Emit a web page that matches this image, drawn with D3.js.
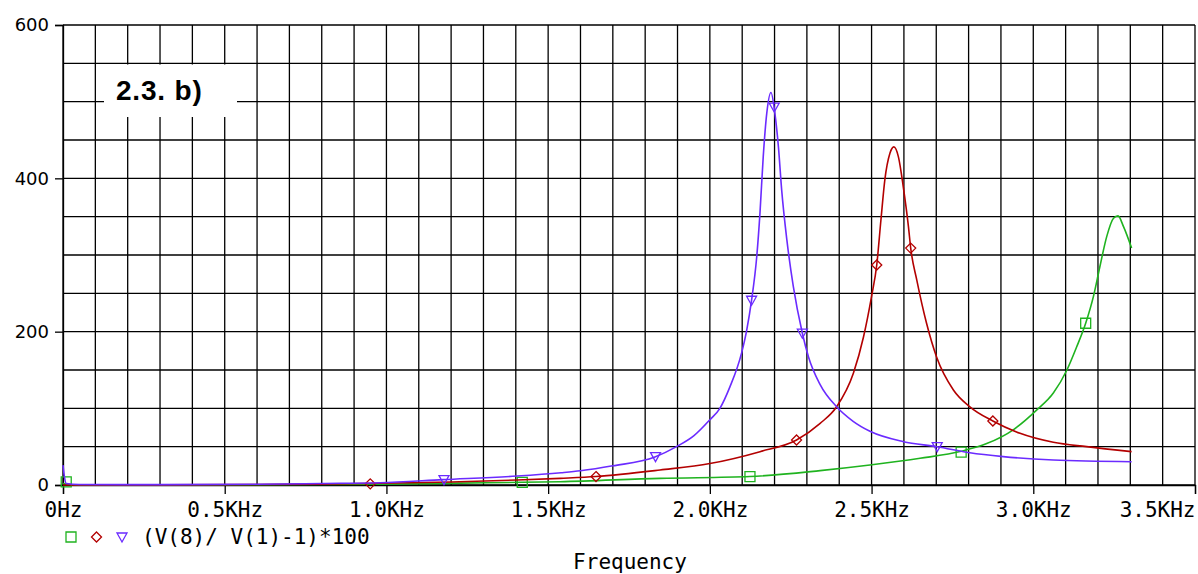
<!DOCTYPE html>
<html>
<head>
<meta charset="utf-8">
<script src="https://cdn.jsdelivr.net/npm/d3@7"></script>
<style>
  body { margin: 0; background: #fff; }
  svg { display: block; }
</style>
</head>
<body>
<script>
/* CONSTANTS AND GLOBALS */
var margin = {top: 25, right: 3, bottom: 89, left: 63},
    width = 1198 - margin.left - margin.right,
    height = 574 - margin.top - margin.bottom;

// frequency in KHz, value of (V(8)/V(1)-1)*100
var blueFreq = [0, 0.004, 0.01, 0.05, 0.3, 0.6, 0.8, 0.98, 1.175, 1.404, 1.54, 1.6, 1.7, 1.83, 1.897, 1.95, 2.0, 2.031, 2.062, 2.098, 2.114, 2.129, 2.145, 2.155, 2.165, 2.176, 2.189, 2.201, 2.212, 2.222, 2.238, 2.258, 2.286, 2.305, 2.341, 2.392, 2.443, 2.495, 2.598, 2.703, 2.804, 2.907, 3.062, 3.304];
var blueVal  = [26, 12, 2, 0.6, 0.5, 1, 2, 3, 7, 11.7, 16, 18.5, 25, 36.5, 50, 64, 85, 100, 128, 172, 202, 241, 298, 355, 428, 485, 512, 485, 441, 385, 320, 259, 198, 167, 131, 102, 83, 70, 56.5, 50, 42, 37, 32.6, 30.4];

var redFreq = [0, 0.05, 0.3, 0.6, 0.8, 0.98, 1.2, 1.404, 1.537, 1.648, 1.846, 2.0, 2.155, 2.268, 2.341, 2.392, 2.444, 2.475, 2.5, 2.516, 2.529, 2.541, 2.557, 2.569, 2.583, 2.598, 2.614, 2.621, 2.64, 2.67, 2.701, 2.753, 2.804, 2.875, 2.959, 3.062, 3.165, 3.304];
var redVal  = [0, 0, 0.2, 0.6, 1.2, 2.2, 4, 6.5, 8.7, 11, 19.6, 28, 43.5, 58.7, 80.4, 102, 146, 193, 246, 287, 346, 398, 433, 441, 428, 389, 337, 309, 267, 211, 167, 124, 102, 83.5, 67.4, 55.7, 50, 43.5];

var greenFreq = [0, 0.05, 0.3, 0.6, 0.98, 1.228, 1.42, 1.537, 1.846, 2.124, 2.341, 2.495, 2.65, 2.777, 2.856, 2.938, 3.011, 3.062, 3.104, 3.134, 3.162, 3.186, 3.206, 3.227, 3.248, 3.262, 3.279, 3.304];
var greenVal  = [2, 0, 0.1, 0.4, 1, 2.5, 3.5, 4.3, 8.7, 11, 18.7, 26, 34.8, 44, 54, 72, 98, 120, 150, 180, 211, 246, 285, 324, 348, 351, 337, 309];

// marker points along each trace
var blueMarkF = [1.178, 1.832, 2.129, 2.199, 2.286, 2.703];
var blueMarkV = [7, 37, 241, 493, 198, 50];
var redMarkF = [0.95, 1.648, 2.268, 2.516, 2.621, 2.875];
var redMarkV = [1.5, 11, 58.7, 287, 309, 83.5];
var greenMarkF = [0.01, 1.42, 2.124, 2.777, 3.162];
var greenMarkV = [4, 3.5, 11, 43, 211];

var yTicks = [0, 200, 400, 600];
var xTicks = [0, 0.5, 1.0, 1.5, 2.0, 2.5, 3.0, 3.5];
var xTickLabels = ["0Hz", "0.5KHz", "1.0KHz", "1.5KHz", "2.0KHz", "2.5KHz", "3.0KHz", "3.5KHz"];

var traceLabel = "(V(8)/ V(1)-1)*100";
var axisTitle = "Frequency";
var boxTitle = "2.3. b)";

var colors = {green: "#1fb31f", red: "#b30000", blue: "#6b2bff"};

// set the ranges
var x = d3.scaleLinear().domain([0, 3.5]).range([0, width]);
var y = d3.scaleLinear().domain([0, 600]).range([height, 0]);

var valueline = d3.line()
  .x(function(d) { return x(d.f); })
  .y(function(d) { return y(d.v); })
  .curve(d3.curveMonotoneX);

function zipPts(fs, vs) {
  return fs.map(function(f, i) { return {f: f, v: vs[i]}; });
}

var series = [
  {name: "green", color: colors.green, shape: "square",   line: zipPts(greenFreq, greenVal), marks: zipPts(greenMarkF, greenMarkV)},
  {name: "red",   color: colors.red,   shape: "diamond",  line: zipPts(redFreq, redVal),     marks: zipPts(redMarkF, redMarkV)},
  {name: "blue",  color: colors.blue,  shape: "triangle", line: zipPts(blueFreq, blueVal),   marks: zipPts(blueMarkF, blueMarkV)}
];

function markerPath(shape) {
  if (shape === "square") return "M-5,-5H5V5H-5Z";
  if (shape === "diamond") return "M0,-5L5,0L0,5L-5,0Z";
  return "M-5,-4H5L0,5Z";
}

/* DRAW */
var svg = d3.select("body").append("svg")
    .attr("width", width + margin.left + margin.right)
    .attr("height", height + margin.top + margin.bottom)
  .append("g")
    .attr("transform", "translate(" + margin.left + "," + margin.top + ")");

// grid
var grid = svg.append("g").attr("stroke", "#000").attr("stroke-width", 1.3);
d3.range(0, 36).forEach(function(i) {
  grid.append("line")
    .attr("x1", x(i / 10)).attr("x2", x(i / 10))
    .attr("y1", 0).attr("y2", height);
});
d3.range(0, 13).forEach(function(i) {
  grid.append("line")
    .attr("x1", 0).attr("x2", width)
    .attr("y1", y(i * 50)).attr("y2", y(i * 50));
});

// title box sits on top of the grid
svg.append("rect")
  .attr("x", 104 - margin.left).attr("y", 64.5 - margin.top)
  .attr("width", 133).attr("height", 52.5)
  .attr("fill", "#fff");
svg.append("text")
  .attr("x", 116 - margin.left).attr("y", 100 - margin.top)
  .style("font-family", "Liberation Sans, Arial, sans-serif")
  .style("font-weight", "bold")
  .style("font-size", "28px")
  .style("letter-spacing", "0.8px")
  .text(boxTitle);

// y axis
var yAxis = svg.append("g")
  .call(d3.axisLeft(y).tickValues(yTicks).tickSize(8).tickPadding(6).tickFormat(d3.format("d")));
yAxis.select(".domain").attr("stroke", "#000").attr("stroke-width", 1.3);
yAxis.selectAll(".tick line").attr("stroke", "#000").attr("stroke-width", 1.3);
yAxis.selectAll("text")
  .attr("fill", "#000")
  .style("font-family", "DejaVu Sans, sans-serif")
  .style("font-size", "18px");

// x axis
var xAxis = svg.append("g")
  .attr("transform", "translate(0," + height + ")")
  .call(d3.axisBottom(x).tickValues(xTicks).tickSize(9).tickPadding(8)
    .tickFormat(function(d, i) { return xTickLabels[i]; }));
xAxis.select(".domain").attr("stroke", "#000").attr("stroke-width", 1.3);
xAxis.selectAll(".tick line").attr("stroke", "#000").attr("stroke-width", 1.3);
xAxis.selectAll("text")
  .attr("fill", "#000")
  .style("font-family", "DejaVu Sans Mono, monospace")
  .style("font-size", "21px");
// last label hugs the right edge
xAxis.selectAll(".tick text")
  .filter(function(d) { return d === 3.5; })
  .attr("text-anchor", "end");

// traces
series.forEach(function(s) {
  svg.append("path")
    .datum(s.line)
    .attr("d", valueline)
    .attr("fill", "none")
    .attr("stroke", s.color)
    .attr("stroke-width", 1.6);

  svg.selectAll(".mk-" + s.name)
    .data(s.marks)
    .enter().append("path")
    .attr("class", "mk-" + s.name)
    .attr("transform", function(d) { return "translate(" + x(d.f) + "," + y(d.v) + ")"; })
    .attr("d", markerPath(s.shape))
    .attr("fill", "none")
    .attr("stroke", s.color)
    .attr("stroke-width", 1.3);
});

// legend
var legend = svg.append("g").attr("transform", "translate(0," + (537 - margin.top) + ")");
series.forEach(function(s, i) {
  legend.append("path")
    .attr("transform", "translate(" + (71 - margin.left + i * 25.5) + ",0)")
    .attr("d", markerPath(s.shape))
    .attr("fill", "none")
    .attr("stroke", s.color)
    .attr("stroke-width", 1.3);
});
legend.append("text")
  .attr("x", 142 - margin.left).attr("y", 7)
  .style("font-family", "DejaVu Sans Mono, monospace")
  .style("font-size", "21px")
  .text(traceLabel);

// x axis title
svg.append("text")
  .attr("x", 630 - margin.left).attr("y", 569 - margin.top)
  .style("text-anchor", "middle")
  .style("font-family", "DejaVu Sans Mono, monospace")
  .style("font-size", "21px")
  .text(axisTitle);
</script>
</body>
</html>
